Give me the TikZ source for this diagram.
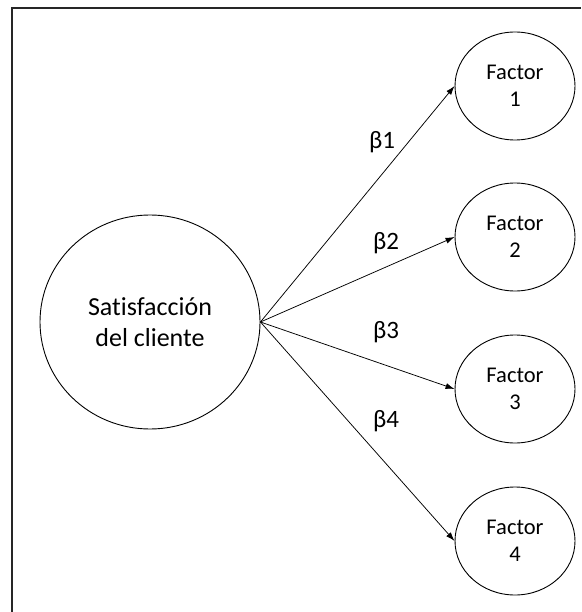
\documentclass[tikz,border=0pt]{standalone}
\usepackage{fontspec}
\setmainfont{Carlito}[Ligatures={NoCommon}]
\usetikzlibrary{shapes.geometric,arrows.meta}

\begin{document}
\begin{tikzpicture}[x=1pt,y=-1pt,
  frameline/.style={line width=1.2pt,black!85},
  bigbubble/.style={ellipse,draw,line width=0.9pt,minimum width=220pt,minimum height=214pt,
    align=center,font=\fontsize{26}{31.5}\selectfont,inner sep=0pt},
  factorbubble/.style={ellipse,draw,line width=0.9pt,minimum width=120pt,minimum height=108pt,
    align=center,font=\fontsize{22.5}{27.5}\selectfont,inner sep=0pt},
  weight/.style={-{Latex[length=9pt,width=6pt]},line width=0.75pt},
  coef/.style={font=\fontsize{25}{30}\selectfont,inner sep=0pt}]
  \useasboundingbox (0,0) rectangle (581,612);

  % open frame: only the left and top edges fall inside the page
  \coordinate (fbl) at (12,612);
  \coordinate (ftl) at (12,8);
  \coordinate (ftr) at (581,8);
  \draw[frameline] (fbl) -- (ftl) -- (ftr);

  % latent construct and its factors
  \node[bigbubble] (sat) at (150,322) {Satisfacción\\del cliente};
  \node[factorbubble] (f1) at (515,86)  {Factor\\1};
  \node[factorbubble] (f2) at (515,237) {Factor\\2};
  \node[factorbubble] (f3) at (515,389) {Factor\\3};
  \node[factorbubble] (f4) at (515,541) {Factor\\4};

  % loadings
  \foreach \k in {1,2,3,4}
    \draw[weight] (sat.east) -- (f\k.west);

  \node[coef] (b1) at (382,142) {β1};
  \node[coef] (b2) at (386,243) {β2};
  \node[coef] (b3) at (386,332) {β3};
  \node[coef] (b4) at (386,421) {β4};
\end{tikzpicture}
\end{document}
